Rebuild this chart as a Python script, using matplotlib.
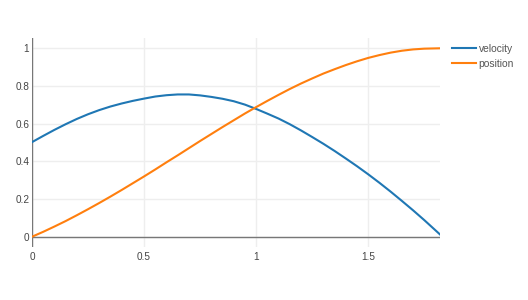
import matplotlib
matplotlib.use("Agg")
import matplotlib.pyplot as plt

# ===== DATA =====
t = [0.0, 0.05, 0.1, 0.15, 0.2, 0.25, 0.3, 0.35, 0.4, 0.45,
     0.5, 0.55, 0.6, 0.65, 0.7, 0.75, 0.8, 0.85, 0.9, 0.95,
     1.0, 1.05, 1.1, 1.15, 1.2, 1.25, 1.3, 1.35, 1.4, 1.45,
     1.5, 1.55, 1.6, 1.65, 1.7, 1.75, 1.82]
velocity = [0.502, 0.535, 0.567, 0.597, 0.625, 0.650, 0.672, 0.691, 0.707, 0.721,
            0.733, 0.744, 0.751, 0.755, 0.755, 0.750, 0.742, 0.732, 0.719, 0.701,
            0.678, 0.653, 0.627, 0.597, 0.564, 0.529, 0.493, 0.455, 0.415, 0.374,
            0.331, 0.286, 0.239, 0.190, 0.140, 0.088, 0.012]
position = [0.0, 0.026, 0.054, 0.083, 0.114, 0.146, 0.179, 0.213, 0.248, 0.284,
            0.320, 0.357, 0.395, 0.432, 0.470, 0.508, 0.545, 0.582, 0.618, 0.654,
            0.688, 0.721, 0.753, 0.784, 0.813, 0.840, 0.866, 0.889, 0.911, 0.931,
            0.949, 0.964, 0.977, 0.987, 0.994, 0.998, 1.0]

x_ticks = [0, 0.5, 1, 1.5]
x_labels = ["0", "0.5", "1", "1.5"]
y_ticks = [0, 0.2, 0.4, 0.6, 0.8, 1]
y_labels = ["0", "0.2", "0.4", "0.6", "0.8", "1"]

plt.rcParams['font.family'] = ['Liberation Sans', 'DejaVu Sans']

# ===== FIGURE =====
W, H = 528, 300
fig = plt.figure(figsize=(W / 100, H / 100), dpi=100)
ax = fig.add_axes([32 / W, 1 - 246.7 / H, (440 - 32) / W, (246.7 - 38.3) / H])

ax.plot(t, velocity, color="#1f77b4", lw=1.5, label="velocity", zorder=3)
ax.plot(t, position, color="#ff7f0e", lw=1.5, label="position", zorder=3)

ax.set_xlim(0, 1.82)
ax.set_ylim(-0.053, 1.053)

ax.set_xticks(x_ticks)
ax.set_xticklabels(x_labels)
ax.set_yticks(y_ticks)
ax.set_yticklabels(y_labels)
ax.tick_params(length=0, labelsize=7.2, colors="#444444")
ax.tick_params(axis="x", pad=4)
ax.tick_params(axis="y", pad=2)

for s in ax.spines.values():
    s.set_visible(False)
ax.grid(True, color="#eeeeee", lw=1)
ax.set_axisbelow(True)

# zero lines
ax.axhline(0, color="#777777", lw=1, zorder=2)
ax.axvline(0, color="#777777", lw=1, zorder=2)

# ===== LEGEND =====
leg = ax.legend(loc="upper left", bbox_to_anchor=(452 / W, 1 - 44 / H),
                bbox_transform=fig.transFigure, frameon=False, fontsize=7.4,
                handlelength=2.3, handletextpad=0.3, labelspacing=0.45,
                borderaxespad=0, borderpad=0)
for txt in leg.get_texts():
    txt.set_color("#555555")
for ln in leg.get_lines():
    ln.set_linewidth(1.5)

fig.savefig("out.png", dpi=100)
